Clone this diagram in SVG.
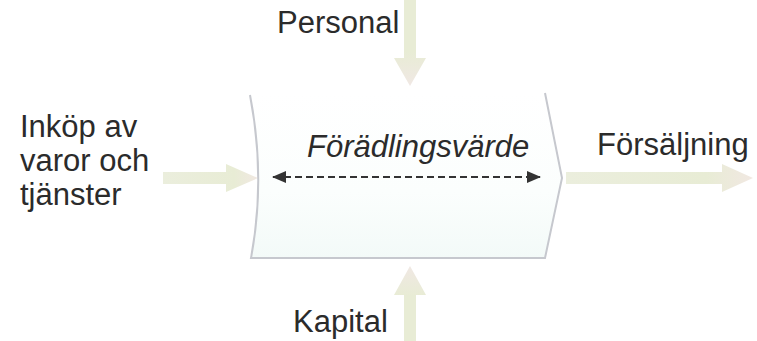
<svg xmlns="http://www.w3.org/2000/svg" width="757" height="341" viewBox="0 0 757 341">
<defs>
<linearGradient id="boxfill" x1="0" y1="0" x2="0" y2="1">
<stop offset="0" stop-color="#ffffff"/>
<stop offset="0.6" stop-color="#fbfefd"/>
<stop offset="1" stop-color="#f3faf8"/>
</linearGradient>
<linearGradient id="gH" x1="0" y1="0" x2="1" y2="0">
<stop offset="0" stop-color="#ebeedd"/>
<stop offset="0.75" stop-color="#e8ecd5"/>
<stop offset="1" stop-color="#f1e8e2"/>
</linearGradient>
<linearGradient id="gDown" x1="0" y1="0" x2="0" y2="1">
<stop offset="0" stop-color="#e8ecd5"/>
<stop offset="0.6" stop-color="#e8ecd5"/>
<stop offset="1" stop-color="#f0e8e4"/>
</linearGradient>
<linearGradient id="gUp" x1="0" y1="1" x2="0" y2="0">
<stop offset="0" stop-color="#e8ecd5"/>
<stop offset="0.6" stop-color="#e8ecd5"/>
<stop offset="1" stop-color="#f0e8e4"/>
</linearGradient>
<marker id="ah" viewBox="0 0 14 12" refX="13" refY="6" markerWidth="14" markerHeight="12" markerUnits="userSpaceOnUse" orient="auto-start-reverse">
<path d="M0,0 L14,6 L0,12 z" fill="#333333"/>
</marker>
</defs>
<style>
.t{font-family:"Liberation Sans",Arial,sans-serif;font-size:31px;fill:#2b2b2b}
.it{font-style:italic}
.edge{fill:none;stroke:#c6c8ce;stroke-width:2}
</style>
<rect width="757" height="341" fill="#ffffff"/>
<g id="flows">
<path id="arrow-personal" d="M404,0 L416,0 L416,58 L426,58 L410,86 L394,58 L404,58 z" fill="url(#gDown)"/>
<path id="arrow-kapital" d="M404,341 L416,341 L416,295 L426,295 L410,266 L394,295 L404,295 z" fill="url(#gUp)"/>
<path id="arrow-inkop" d="M163,172 L226,172 L226,164 L258,178 L226,192 L226,184 L163,184 z" fill="url(#gH)"/>
<path id="arrow-forsaljning" d="M566,172 L722,172 L722,164 L753,178 L722,192 L722,184 L566,184 z" fill="url(#gH)"/>
</g>
<g id="process">
<path d="M250,95 L545,93 L562,178 L545,258 L251,258 Q266,178 250,95 z" fill="url(#boxfill)"/>
<path class="edge" d="M250,95 Q266,178 251,258 L545,258 L562,178 L545,93"/>
</g>
<g id="connectors">
<line x1="273" y1="177" x2="540" y2="177" stroke="#333333" stroke-width="2.2" stroke-dasharray="7,4" marker-start="url(#ah)" marker-end="url(#ah)"/>
</g>
<g id="labels">
<text class="t" x="277" y="33">Personal</text>
<text class="t it" x="307" y="157">Förädlingsvärde</text>
<text class="t" x="20" y="137">Inköp av</text>
<text class="t" x="20" y="171">varor och</text>
<text class="t" x="20" y="205">tjänster</text>
<text class="t" x="597" y="155">Försäljning</text>
<text class="t" x="293" y="332">Kapital</text>
</g>
</svg>
